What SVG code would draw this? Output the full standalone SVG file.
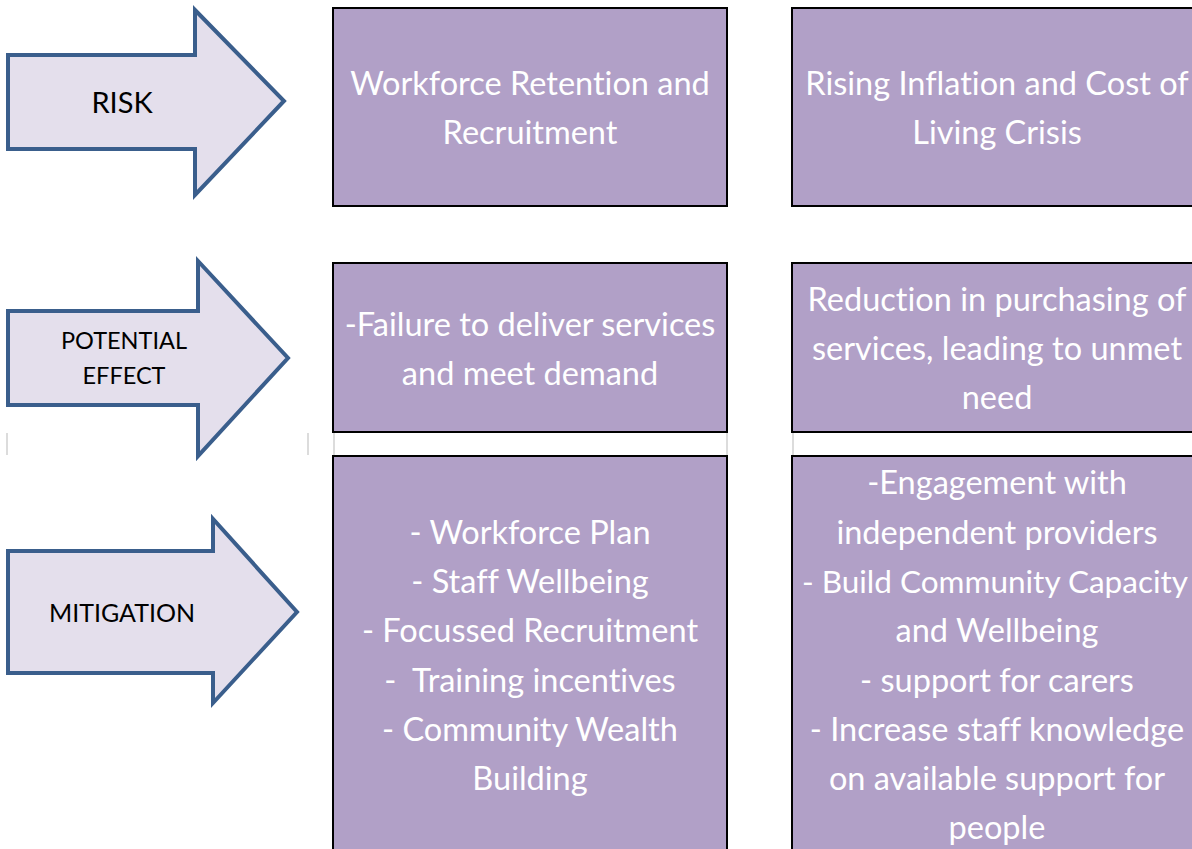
<svg xmlns="http://www.w3.org/2000/svg" width="1192" height="849" viewBox="0 0 1192 849">
<style>
.arrow{fill:#E4DFEC;stroke:#3A5E8C;stroke-width:4;stroke-linejoin:miter}
.lbl{font-family:Lato,"Liberation Sans",sans-serif;fill:#000;text-anchor:middle;font-variant-ligatures:none}
.box{fill:#B1A0C7;stroke:#000;stroke-width:2}
.bt{font-family:Lato,"Liberation Sans",sans-serif;font-size:32.5px;fill:#fff;text-anchor:middle;font-variant-ligatures:none}
.grid{stroke:#D0D0D0;stroke-width:1.5}
</style>
<rect width="1192" height="849" fill="#fff"/>
<g id="grid-lines">
<line class="grid" x1="7" y1="433" x2="7" y2="455"/>
<line class="grid" x1="308" y1="433" x2="308" y2="455"/>
<line class="grid" x1="334" y1="433" x2="334" y2="455"/>
<line class="grid" x1="727" y1="433" x2="727" y2="455"/>
<line class="grid" x1="793" y1="433" x2="793" y2="455"/>
</g>
<g id="arrow-risk">
<polygon class="arrow" points="8,55 195,55 195,10 284,101 195,195 195,149 8,149"/>
<text class="lbl" x="122" y="113" font-size="29">RISK</text>
</g>
<g id="arrow-effect">
<polygon class="arrow" points="8,311 198,311 198,261 288,358 198,456 198,405 8,405"/>
<text class="lbl" x="124" y="349" font-size="23.5">POTENTIAL</text>
<text class="lbl" x="124" y="384" font-size="23.5">EFFECT</text>
</g>
<g id="arrow-mitigation">
<polygon class="arrow" points="8,551 213,551 213,519 297,612 213,703 213,673 8,673"/>
<text class="lbl" x="122" y="622" font-size="25">MITIGATION</text>
</g>
<g id="risk-1">
<rect class="box" x="333" y="8" width="394" height="198"/>
<text class="bt" x="530" y="95">Workforce Retention and</text>
<text class="bt" x="530" y="144">Recruitment</text>
</g>
<g id="risk-2">
<rect class="box" x="792" y="8" width="410" height="198"/>
<text class="bt" x="997" y="95">Rising Inflation and Cost of</text>
<text class="bt" x="997" y="144">Living Crisis</text>
</g>
<g id="effect-1">
<rect class="box" x="333" y="263" width="394" height="169"/>
<text class="bt" x="530" y="336">-Failure to deliver services</text>
<text class="bt" x="530" y="385">and meet demand</text>
</g>
<g id="effect-2">
<rect class="box" x="792" y="263" width="410" height="169"/>
<text class="bt" x="997" y="311">Reduction in purchasing of</text>
<text class="bt" x="997" y="360">services, leading to unmet</text>
<text class="bt" x="997" y="409">need</text>
</g>
<g id="mitigation-1">
<rect class="box" x="333" y="456" width="394" height="400"/>
<text class="bt" x="530" y="544">- Workforce Plan</text>
<text class="bt" x="530" y="593">- Staff Wellbeing</text>
<text class="bt" x="530" y="642">- Focussed Recruitment</text>
<text class="bt" x="530" y="692" xml:space="preserve">-  Training incentives</text>
<text class="bt" x="530" y="741">- Community Wealth</text>
<text class="bt" x="530" y="790">Building</text>
</g>
<g id="mitigation-2">
<rect class="box" x="792" y="456" width="410" height="400"/>
<text class="bt" x="997" y="494">-Engagement with</text>
<text class="bt" x="997" y="544">independent providers</text>
<text class="bt" x="995" y="593" style="font-size:31.5px">- Build Community Capacity</text>
<text class="bt" x="997" y="642">and Wellbeing</text>
<text class="bt" x="997" y="692">- support for carers</text>
<text class="bt" x="997" y="741">- Increase staff knowledge</text>
<text class="bt" x="997" y="790">on available support for</text>
<text class="bt" x="997" y="839">people</text>
</g>
<g id="connectors"></g>
</svg>
